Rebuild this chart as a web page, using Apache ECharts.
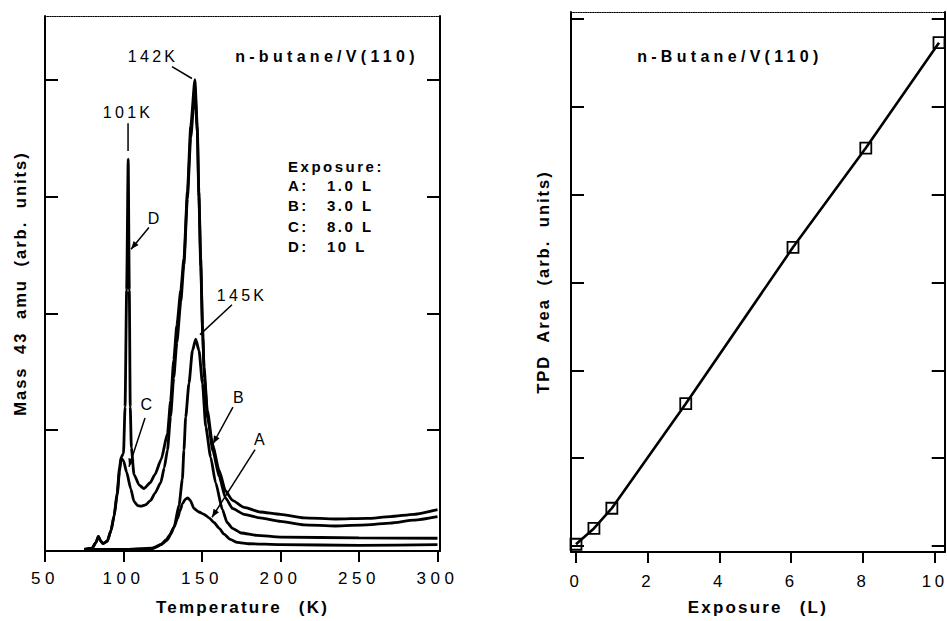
<!DOCTYPE html>
<html>
<head>
<meta charset="utf-8">
<script src="https://cdn.jsdelivr.net/npm/echarts@6/dist/echarts.min.js"></script>
<style>
html,body{margin:0;padding:0;background:#fff;}
#main{width:947px;height:621px;}
#main text{letter-spacing:2px;}
#main text[style*="17px"]{letter-spacing:4.5px;}
#main text[style*="16.8px"]{letter-spacing:3.5px;}
#main text[style*="17px"][style*="bold"]{letter-spacing:2.2px;word-spacing:10px;}
#main text[style*="16.5px"][style*="bold"]{letter-spacing:2px;word-spacing:6px;}
#main text[style*="16px"]{letter-spacing:3.3px;}
#main text[style*="16px"][style*="bold"]{letter-spacing:4.3px;}
#main text[style*="15px"]{letter-spacing:2.5px;}
</style>
</head>
<body>
<div id="main"></div>
<script>
// ---------- Data (left panel: TPD spectra, mass 43) ----------
const tempTicks = [50, 100, 150, 200, 250, 300];
const massTicks = [1, 2, 3, 4];

const tempA = [75, 100, 118, 121, 123.7, 127, 130, 132.2, 134.3, 136, 137.5, 139.5, 141, 142.5, 144.9, 148, 151.3, 154.5, 157.6, 161, 164, 168, 172.5, 180, 200, 250, 300];
const massA = [-0.02, -0.02, -0.015, 0.0, 0.02, 0.06, 0.11, 0.17, 0.24, 0.31, 0.37, 0.41, 0.42, 0.40, 0.33, 0.30, 0.28, 0.25, 0.21, 0.16, 0.11, 0.065, 0.04, 0.028, 0.02, 0.015, 0.02];

const tempB = [75, 100, 118, 123.7, 128, 132.2, 135.4, 137.5, 138.5, 139.6, 141.7, 143.9, 146, 148.1, 150.3, 152.4, 155.5, 158.7, 163, 166, 169.4, 175, 185, 200, 250, 300];
const massB = [-0.02, -0.02, -0.01, 0.02, 0.06, 0.17, 0.36, 0.58, 0.83, 1.11, 1.40, 1.68, 1.78, 1.68, 1.40, 1.03, 0.77, 0.55, 0.32, 0.21, 0.16, 0.12, 0.10, 0.085, 0.078, 0.075];

const tempC = [75, 80, 82.5, 84, 85.5, 87, 89.7, 92, 94, 96, 97.5, 98.5, 100, 102, 104.6, 106.7, 109, 111, 114, 117.3, 120, 123.7, 126, 128, 130, 132, 134, 136.5, 138.5, 140.7, 142.8, 145.5, 147, 148, 149.2, 150.5, 151.5, 153.6, 157, 161, 165, 169.4, 176.8, 187, 200, 215, 235, 255, 270, 285, 300];
const massC = [-0.02, -0.01, 0.04, 0.09, 0.05, 0.03, 0.05, 0.14, 0.26, 0.45, 0.65, 0.76, 0.74, 0.64, 0.50, 0.39, 0.355, 0.35, 0.36, 0.40, 0.46, 0.55, 0.68, 0.83, 1.12, 1.45, 1.75, 2.10, 2.42, 2.98, 3.50, 3.92, 3.55, 3.00, 2.40, 1.80, 1.45, 1.10, 0.82, 0.60, 0.42, 0.33, 0.28, 0.25, 0.22, 0.19, 0.18, 0.19, 0.205, 0.23, 0.26];

const tempD = [75, 80, 82.5, 84, 85.5, 87, 89.7, 92, 94, 96, 97.5, 98.5, 100, 101, 102, 103, 103.7, 104.3, 105, 106.7, 110, 113, 117, 120, 124, 128, 130, 132, 134, 136.5, 138.5, 140.7, 142.8, 145.5, 147, 148, 149.2, 150.3, 151.3, 153.4, 156.6, 160.8, 165, 169.4, 176.8, 187, 200, 215, 235, 255, 270, 285, 300];
const massD = [-0.02, -0.01, 0.04, 0.09, 0.05, 0.03, 0.05, 0.14, 0.27, 0.47, 0.68, 0.77, 0.80, 1.20, 2.20, 3.32, 2.20, 1.20, 0.85, 0.62, 0.53, 0.50, 0.55, 0.62, 0.75, 0.97, 1.25, 1.60, 1.90, 2.20, 2.47, 3.04, 3.60, 4.00, 3.60, 3.04, 2.47, 1.90, 1.54, 1.17, 0.89, 0.66, 0.48, 0.40, 0.34, 0.30, 0.28, 0.25, 0.24, 0.245, 0.26, 0.28, 0.32];

// ---------- Data (right panel: TPD area vs exposure) ----------
const exposureTicks = [0, 2, 4, 6, 8, 10];
const areaTicks = [0, 1, 2, 3, 4, 5, 6];
const exposure = [0, 0.5, 1.0, 3.06, 6.05, 8.08, 10.12];
const tpdArea = [0.02, 0.20, 0.43, 1.62, 3.40, 4.53, 5.73];

// ---------- Text ----------
const leftTitle = 'n-butane/V(110)';
const rightTitle = 'n-Butane/V(110)';
const legendHeader = 'Exposure:';
const legendKeys = ['A:', 'B:', 'C:', 'D:'];
const legendValues = ['1.0 L', '3.0 L', '8.0 L', '10 L'];
const peakLabels = ['142K', '101K', '145K'];
const curveLabels = ['D', 'C', 'B', 'A'];

const FONT = "'Liberation Sans', Arial, sans-serif";
const chart = echarts.init(document.getElementById('main'), null, {renderer: 'svg', width: 947, height: 621});

function pairs(xs, ys) { return xs.map((x, i) => [x, ys[i]]); }

const black = '#000';
function bottomAxis(grid, min, max, ticks, name, margin, gap, labelSize) {
  return {
    type: 'value', gridIndex: grid, position: 'bottom', min: min, max: max,
    axisLine: {show: true, onZero: false, lineStyle: {color: black, width: 2}},
    axisTick: {show: true, inside: false, length: 11, lineStyle: {color: black, width: 2}, customValues: ticks},
    axisLabel: {show: true, customValues: ticks, color: black, fontSize: labelSize, fontFamily: FONT, margin: margin},
    splitLine: {show: false},
    name: name, nameLocation: 'middle', nameGap: gap,
    nameTextStyle: {color: black, fontSize: 17, fontWeight: 'bold', fontFamily: FONT}
  };
}
function topAxis(grid, min, max) {
  return {
    type: 'value', gridIndex: grid, position: 'top', min: min, max: max,
    axisLine: {show: true, onZero: false, lineStyle: {color: black, width: 1.2, type: 'dotted'}},
    axisTick: {show: false}, axisLabel: {show: false}, splitLine: {show: false}
  };
}
function sideAxis(grid, pos, min, max, ticks, name, gap) {
  const ax = {
    type: 'value', gridIndex: grid, position: pos, min: min, max: max,
    axisLine: {show: true, onZero: false, lineStyle: {color: black, width: 2}},
    axisTick: {show: true, inside: true, length: 13, lineStyle: {color: black, width: 2}, customValues: ticks},
    axisLabel: {show: false}, splitLine: {show: false}
  };
  if (name) {
    ax.name = name; ax.nameLocation = 'middle'; ax.nameGap = gap;
    ax.nameTextStyle = {color: black, fontSize: 16.5, fontWeight: 'bold', fontFamily: FONT};
  }
  return ax;
}

const L_XMIN = 50, L_XMAX = 301.6, L_YMIN = -0.034, L_YMAX = 4.545;
const R_XMIN = -0.139, R_XMAX = 10.28, R_YMIN = -0.068, R_YMAX = 6.079;

const curveStyle = {color: black, width: 2.8};
function curve(name, xs, ys) {
  return {
    name: name, type: 'line', xAxisIndex: 0, yAxisIndex: 0, data: pairs(xs, ys),
    showSymbol: false, symbol: 'none', smooth: 0.2, smoothMonotone: 'x',
    lineStyle: curveStyle, silent: true, z: 3
  };
}

chart.setOption({
  animation: false,
  backgroundColor: '#fff',
  textStyle: {fontFamily: FONT},
  grid: [
    {left: 45, top: 16, width: 395, height: 539},
    {left: 571, top: 12, width: 374, height: 545}
  ],
  xAxis: [
    bottomAxis(0, L_XMIN, L_XMAX, tempTicks, 'Temperature (K)', 19, 48, 17),
    topAxis(0, L_XMIN, L_XMAX),
    bottomAxis(1, R_XMIN, R_XMAX, exposureTicks, 'Exposure (L)', 21, 47, 16.8),
    topAxis(1, R_XMIN, R_XMAX)
  ],
  yAxis: [
    sideAxis(0, 'left', L_YMIN, L_YMAX, massTicks, 'Mass 43 amu (arb. units)', 17),
    sideAxis(0, 'right', L_YMIN, L_YMAX, massTicks),
    sideAxis(1, 'left', R_YMIN, R_YMAX, areaTicks, 'TPD Area (arb. units)', 20),
    sideAxis(1, 'right', R_YMIN, R_YMAX, areaTicks)
  ],
  series: [
    curve('A', tempA, massA),
    curve('B', tempB, massB),
    curve('C', tempC, massC),
    curve('D', tempD, massD),
    {
      name: 'TPD Area', type: 'line', xAxisIndex: 2, yAxisIndex: 2,
      data: pairs(exposure, tpdArea), showSymbol: true, symbol: 'rect', symbolSize: 11,
      itemStyle: {color: 'rgba(0,0,0,0)', borderColor: black, borderWidth: 1.8},
      lineStyle: {color: black, width: 2.6}, silent: true, z: 3
    }
  ]
});

// ---------- Annotations (placed in data coordinates) ----------
const LEFT = {xAxisIndex: 0, yAxisIndex: 0};
const RIGHT = {xAxisIndex: 2, yAxisIndex: 2};
const px = (f, p) => chart.convertToPixel(f, p);

const peakLabelAt = [[118.8, 4.197], [102.9, 3.721], [175.5, 2.149]];
const curveLabelAt = [[120.1, 2.812], [115.6, 1.223], [174.2, 1.283], [187.6, 0.917]];
const peakLeaders = [
  [[130.9, 4.112], [143.6, 4.01]],
  [[102.9, 3.628], [102.9, 3.39]],
  [[169.1, 2.073], [148.7, 1.818]]
];
const curveArrows = [
  [[116.2, 2.735], [104.8, 2.549]],
  [[113.7, 1.104], [103.5, 0.688]],
  [[169.7, 1.198], [157.0, 0.884]],
  [[183.8, 0.833], [156.4, 0.255]]
];

const g = [];
function txt(p, text, size, weight, align) {
  g.push({type: 'text', silent: true, z: 10, x: p[0], y: p[1],
    style: {text: text, fill: black, fontSize: size, fontWeight: weight, fontFamily: FONT,
      align: align || 'center', verticalAlign: 'middle', textAlign: align || 'center', textVerticalAlign: 'middle'}});
}
function seg(a, b, w) {
  g.push({type: 'line', silent: true, z: 10, shape: {x1: a[0], y1: a[1], x2: b[0], y2: b[1]},
    style: {stroke: black, lineWidth: w || 1.5}});
}
function arrow(a, b) {
  seg(a, b, 1.5);
  const dx = b[0] - a[0], dy = b[1] - a[1], len = Math.hypot(dx, dy);
  const ux = dx / len, uy = dy / len, nx = -uy, ny = ux;
  const bl = 8, hw = 3.2;
  g.push({type: 'polygon', silent: true, z: 10, shape: {points: [
    [b[0], b[1]],
    [b[0] - ux * bl + nx * hw, b[1] - uy * bl + ny * hw],
    [b[0] - ux * bl - nx * hw, b[1] - uy * bl - ny * hw]
  ]}, style: {fill: black}});
}

peakLabels.forEach((t, i) => txt(px(LEFT, peakLabelAt[i]), t, 16, 'normal'));
peakLeaders.forEach(s => seg(px(LEFT, s[0]), px(LEFT, s[1]), 1.5));
curveLabels.forEach((t, i) => txt(px(LEFT, curveLabelAt[i]), t, 16, 'normal'));
curveArrows.forEach(s => arrow(px(LEFT, s[0]), px(LEFT, s[1])));

txt(px(LEFT, [229.6, 4.197]), leftTitle, 16, 'bold');
txt(px(LEFT, [204.8, 3.254]), legendHeader, 15, 'bold', 'left');
const legendRowsV = [3.092, 2.922, 2.744, 2.574];
legendKeys.forEach((k, i) => {
  txt(px(LEFT, [204.8, legendRowsV[i]]), k, 15, 'bold', 'left');
  txt(px(LEFT, [229.6, legendRowsV[i]]), legendValues[i], 15, 'bold', 'left');
});

txt(px(RIGHT, [4.29, 5.571]), rightTitle, 16, 'bold');

chart.setOption({graphic: {elements: g}});
</script>
</body>
</html>
